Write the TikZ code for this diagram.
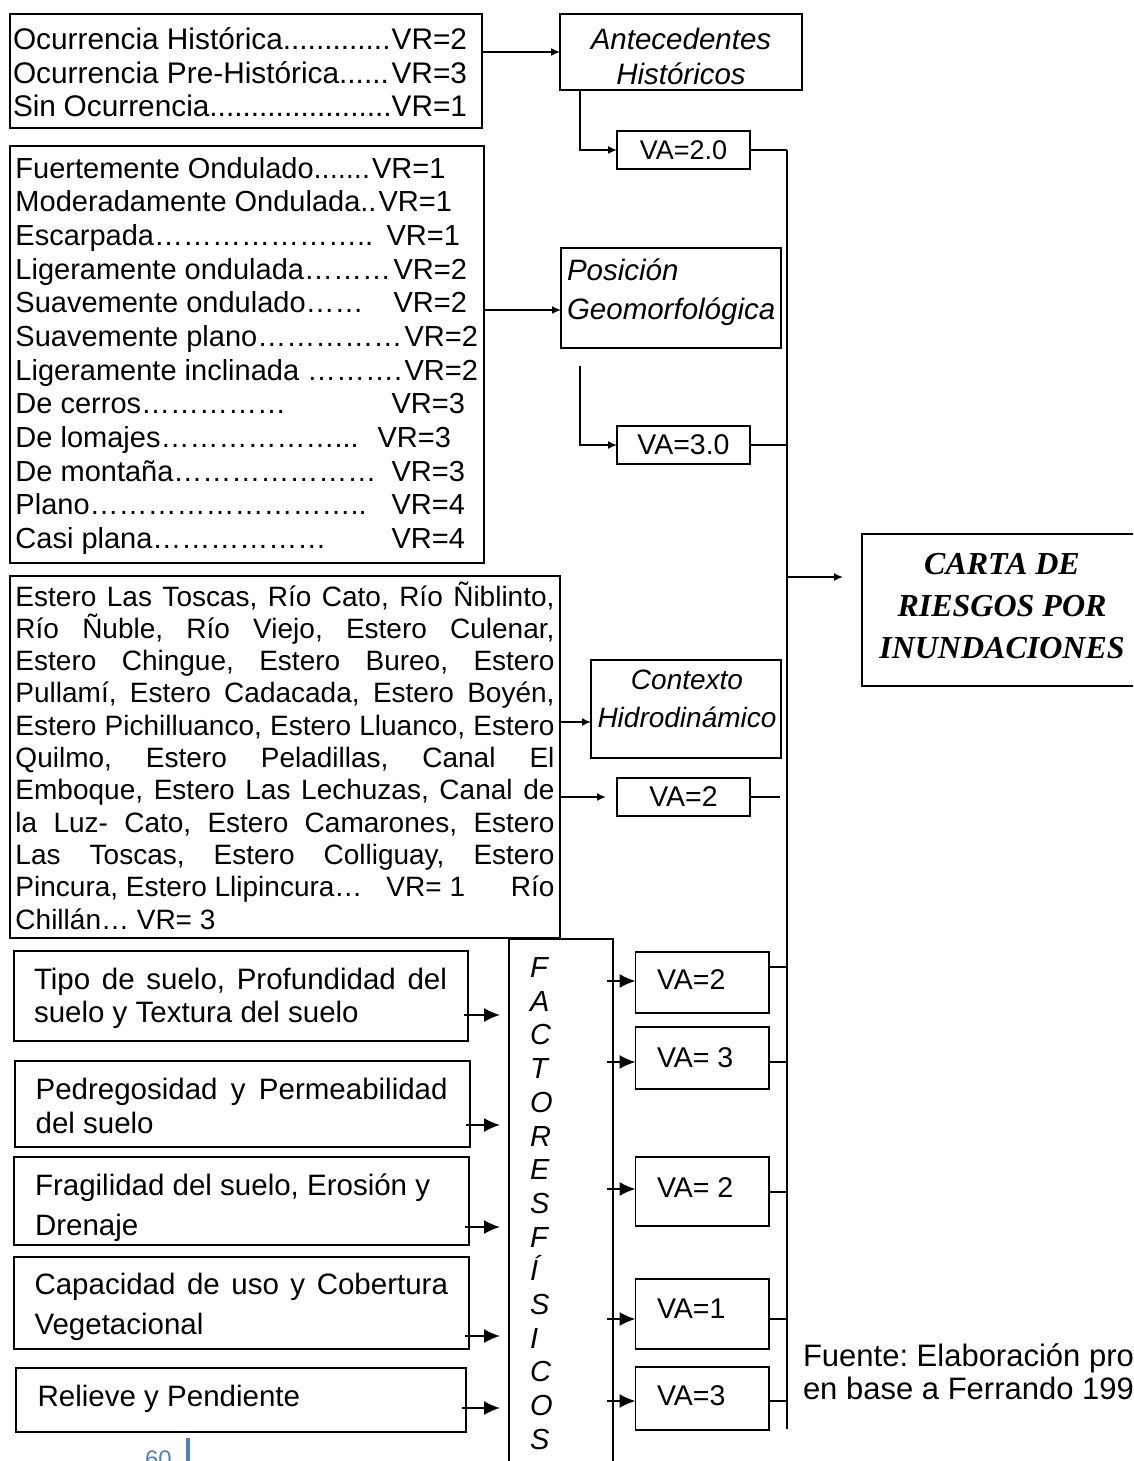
\documentclass[tikz,border=0pt]{standalone}
\usepackage{fontspec}
\setmainfont{Liberation Sans}
\newfontfamily\titlefont{Liberation Serif}
\usetikzlibrary{arrows.meta,calc}
\newcommand\fsz[1]{\fontsize{#1pt}{#1pt}\selectfont}
\newcommand\el{…}
\definecolor{pageblue}{RGB}{79,129,189}
\frenchspacing

\begin{document}
\begin{tikzpicture}[x=1pt,y=-1pt,
  box/.style={draw,line width=2pt,inner sep=0pt,outer sep=0pt,anchor=north west},
  vabox/.style={box,line width=1.6pt},
  lbl/.style={inner sep=0pt,outer sep=0pt,anchor=base west,font=\fsz{29.5}},
  clbl/.style={lbl,anchor=base},
  wire/.style={line width=1.6pt},
  arr/.style={wire,-{Latex[length=9pt,width=8pt]}},
  bigarr/.style={wire,-{Latex[length=16pt,width=14pt]}},
]
\useasboundingbox (0,0) rectangle (1133,1461);
\clip (0,0) rectangle (1133,1461);

% ---------- left column of criteria boxes ----------
\node[box,minimum width=472.5pt,minimum height=114pt] (hist) at (9.5,14.5) {};
\node[box,minimum width=474.5pt,minimum height=417pt] (geo) at (9.5,146) {};
\node[box,minimum width=550pt,minimum height=362pt] (hyd) at (10,576) {};

% historical occurrence
\node[lbl,font=\fsz{29.8}] (h1) at (13,50) {\hbox to 454pt{Ocurrencia Histórica.............\hfill VR=2}};
\node[lbl,font=\fsz{29.8}] (h2) at (13,84) {\hbox to 454pt{Ocurrencia Pre-Histórica......\hfill VR=3}};
\node[lbl,font=\fsz{29.8}] (h3) at (13,117) {\hbox to 454pt{Sin Ocurrencia......................\hfill VR=1}};

% geomorphology
\foreach \i/\txt/\vr/\w in {
  0/{Fuertemente Ondulado.......}/1/430,
  1/{Moderadamente Ondulada..}/1/436.5,
  2/{Escarpada\el\el\el\el\el\el\el..}/1/444.5,
  3/{Ligeramente ondulada\el\el\el}/2/451.5,
  4/{Suavemente ondulado\el\el}/2/451.5,
  5/{Suavemente plano\el\el\el\el\el}/2/462.5,
  6/{Ligeramente inclinada \el\el\el.}/2/462.5,
  7/{De cerros\el\el\el\el\el}/3/449.5,
  8/{De lomajes\el\el\el\el\el\el...}/3/435.5,
  9/{De montaña\el\el\el\el\el\el\el}/3/449.5,
  10/{Plano\el\el\el\el\el\el\el\el\el..}/4/449.5,
  11/{Casi plana\el\el\el\el\el\el}/4/449.5}
  \node[lbl,font=\fsz{29}] (g\i) at (15.5,178.3+33.64*\i) {\hbox to \w pt{\txt\hfill VR=\vr}};

% hydrographic network
\foreach \i/\txt in {
  0/{Estero Las Toscas, Río Cato, Río Ñiblinto,},
  1/{Río Ñuble, Río Viejo, Estero Culenar,},
  2/{Estero Chingue, Estero Bureo, Estero},
  3/{Pullamí, Estero Cadacada, Estero Boyén,},
  4/{Estero Pichilluanco, Estero Lluanco, Estero},
  5/{Quilmo, Estero Peladillas, Canal El},
  6/{Emboque, Estero Las Lechuzas, Canal de},
  7/{la Luz- Cato, Estero Camarones, Estero},
  8/{Las Toscas, Estero Colliguay, Estero}}
  \node[lbl,font=\fsz{28}] (r\i) at (15.5,606+32.3*\i) {\makebox[539pt][s]{\txt}};
\node[lbl,font=\fsz{28}] (r9) at (15.5,896.7) {\hbox to 539pt{Pincura, Estero Llipincura…\hspace{24pt}VR= 1\hfill Río}};
\node[lbl,font=\fsz{28}] (r10) at (15.5,929) {Chillán… VR= 3};

% ---------- factor boxes ----------
\node[box,minimum width=242pt,minimum height=76pt] (ante) at (560,14) {};
\node[clbl,font=\fsz{29.5}\itshape] (ante1) at (681,50) {Antecedentes};
\node[clbl,font=\fsz{29.5}\itshape] (ante2) at (681,85) {Históricos};

\node[box,minimum width=220pt,minimum height=100pt] (pos) at (561,248) {};
\node[lbl,font=\fsz{29.5}\itshape] (pos1) at (567,280) {Posición};
\node[lbl,font=\fsz{29.5}\itshape] (pos2) at (567,319) {Geomorfológica};

\node[box,minimum width=190pt,minimum height=98pt] (ctx) at (591,660) {};
\node[clbl,font=\fsz{28}\itshape] (ctx1) at (687,689) {Contexto};
\node[clbl,font=\fsz{28}\itshape] (ctx2) at (687,727) {Hidrodinámico};

% ---------- assigned values ----------
\node[vabox,minimum width=133pt,minimum height=38pt,font=\fsz{27}] (va1) at (617,131) {VA=2.0};
\node[vabox,minimum width=133pt,minimum height=38pt,font=\fsz{28.5}] (va2) at (617,426) {VA=3.0};
\node[vabox,minimum width=133pt,minimum height=38pt,font=\fsz{28.5}] (va3) at (617,778) {VA=2};

% ---------- result ----------
\node[box,minimum width=290pt,minimum height=152pt] (carta) at (862,534) {};
\node[clbl,font=\fsz{32}\titlefont\bfseries\itshape] (c1) at (1002,574) {CARTA DE};
\node[clbl,font=\fsz{32}\titlefont\bfseries\itshape] (c2) at (1002,616) {RIESGOS POR};
\node[clbl,font=\fsz{32}\titlefont\bfseries\itshape] (c3) at (1002,658) {INUNDACIONES};

% ---------- physical factors ----------
\node[box,minimum width=454.5pt,minimum height=90pt] (s1) at (13.5,951) {};
\node[box,minimum width=455pt,minimum height=86pt] (s2) at (15,1061) {};
\node[box,minimum width=455pt,minimum height=88pt] (s3) at (14,1157) {};
\node[box,minimum width=455pt,minimum height=92pt] (s4) at (14,1257) {};
\node[box,minimum width=450pt,minimum height=64pt] (s5) at (16,1368) {};

\node[lbl] (s1a) at (34,989) {\makebox[413pt][s]{Tipo de suelo, Profundidad del}};
\node[lbl] (s1b) at (34,1022) {suelo y Textura del suelo};
\node[lbl] (s2a) at (35.6,1099) {\makebox[412pt][s]{Pedregosidad y Permeabilidad}};
\node[lbl] (s2b) at (35.6,1133) {del suelo};
\node[lbl] (s3a) at (35,1195) {Fragilidad del suelo, Erosión y};
\node[lbl] (s3b) at (35,1235) {Drenaje};
\node[lbl] (s4a) at (34.5,1294) {\makebox[413.5pt][s]{Capacidad de uso y Cobertura}};
\node[lbl] (s4b) at (34.5,1334) {Vegetacional};
\node[lbl] (s5a) at (37.7,1406) {Relieve y Pendiente};

\node[box,line width=1.5pt,minimum width=104pt,minimum height=540pt] (fac) at (509,939) {};
\foreach \i/\ch in {0/F,1/A,2/C,3/T,4/O,5/R,6/E,7/S,8/F,9/Í,10/S,11/I,12/C,13/O,14/S}
  \node[lbl,font=\fsz{29}\itshape] (fl\i) at (530,977.5+33.7*\i) {\ch};

\node[vabox,minimum width=133.5pt,minimum height=61pt] (v1) at (635.5,952) {};
\node[vabox,minimum width=133.5pt,minimum height=62pt] (v2) at (635.5,1027) {};
\node[vabox,minimum width=133.5pt,minimum height=69pt] (v3) at (635.5,1157) {};
\node[vabox,minimum width=133.5pt,minimum height=70pt] (v4) at (635.5,1279) {};
\node[vabox,minimum width=133.5pt,minimum height=63pt] (v5) at (635.5,1367) {};
\node[lbl,font=\fsz{28.5}] (v1t) at (657,989) {VA=2};
\node[lbl,font=\fsz{28.5}] (v2t) at (657,1067) {VA= 3};
\node[lbl,font=\fsz{28.5}] (v3t) at (657,1197) {VA= 2};
\node[lbl,font=\fsz{28.5}] (v4t) at (657,1318) {VA=1};
\node[lbl,font=\fsz{28.5}] (v5t) at (657,1405) {VA=3};

% ---------- connectors ----------
\coordinate (bustop) at (787,150);
\coordinate (busbot) at (787,1429);
\draw[wire,line width=2.2pt] (bustop) -- (busbot);

\draw[arr] (hist.east |- 0,52) -- (ante.west |- 0,52);
\draw[arr] ([xshift=20pt]ante.south west) |- (va1.west);
\draw[wire] (va1.east) -- (va1.east -| bustop);

\draw[arr] (geo.east |- 0,310) -- (pos.west |- 0,310);
\draw[arr] ([xshift=19pt,yshift=-18pt]pos.south west) |- (va2.west);
\draw[wire] (va2.east) -- (va2.east -| bustop);

\draw[arr] (hyd.east |- 0,722) -- (ctx.west |- 0,722);
\draw[arr,shorten >=11pt] (hyd.east |- va3.west) -- (va3.west);
\draw[wire,shorten >=7pt] (va3.east) -- (va3.east -| bustop);

\draw[arr,shorten >=19pt] (bustop |- 0,577) -- (carta.west |- 0,577);

\foreach \s/\y in {s1/1015,s2/1125,s3/1227,s4/1336,s5/1408}
  \draw[bigarr,shorten <=-4pt,shorten >=9pt] (\s.east |- 0,\y) -- (fac.west |- 0,\y);
\foreach \v/\y in {v1/981,v2/1062,v3/1189,v4/1319,v5/1401}
  \draw[bigarr,shorten <=-6pt] (fac.east |- 0,\y) -- (\v.west |- 0,\y);
\foreach \v/\y in {v1/967,v2/1062,v3/1192,v4/1319,v5/1401}
  \draw[wire] (\v.east |- 0,\y) -- (bustop |- 0,\y);

% ---------- source note and page number ----------
\node[lbl,font=\fsz{31}] (src1) at (803,1366) {Fuente: Elaboración pro};
\node[lbl,font=\fsz{31}] (src2) at (803,1399) {en base a Ferrando 199};

\node[lbl,font=\fsz{24},text=pageblue] (pg) at (145,1467) {60};
\fill[pageblue] (186,1438) rectangle (190,1461);
\end{tikzpicture}
\end{document}
